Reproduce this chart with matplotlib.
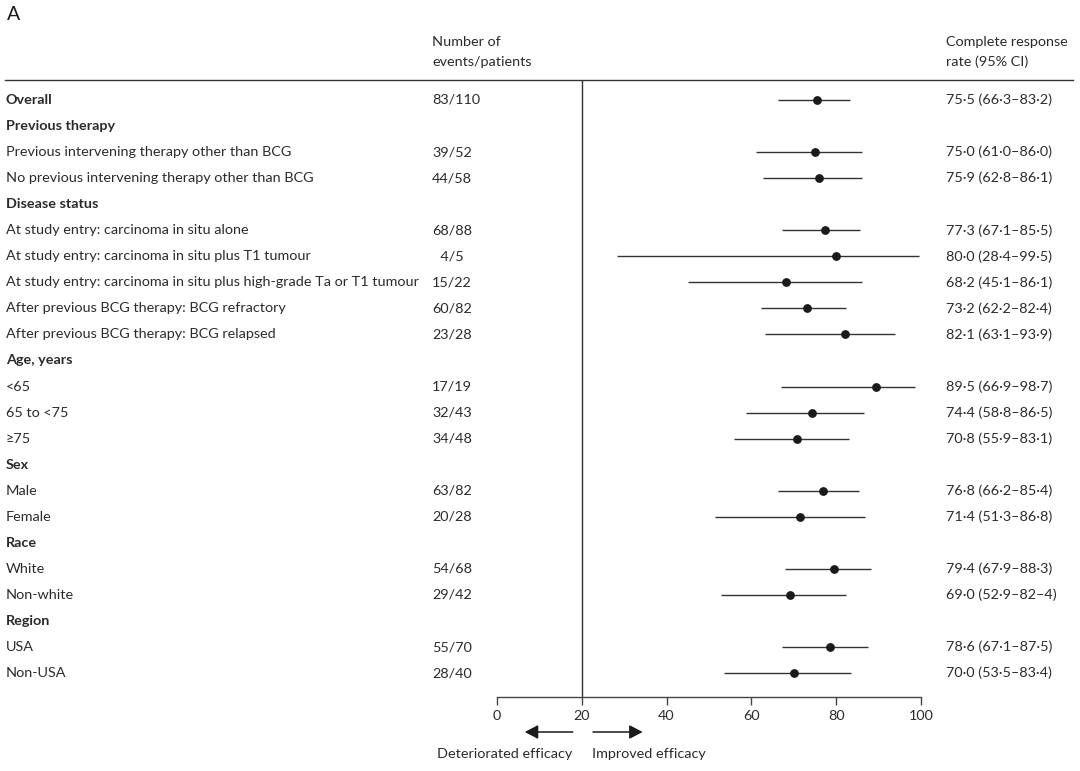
import matplotlib
matplotlib.use('Agg')
import matplotlib.pyplot as plt
from matplotlib import transforms
import numpy as np

# Subgroup rows (headers have no values)
labels = [
    'Overall', 'Previous therapy',
    'Previous intervening therapy other than BCG',
    'No previous intervening therapy other than BCG',
    'Disease status',
    'At study entry: carcinoma in situ alone',
    'At study entry: carcinoma in situ plus T1 tumour',
    'At study entry: carcinoma in situ plus high-grade Ta or T1 tumour',
    'After previous BCG therapy: BCG refractory',
    'After previous BCG therapy: BCG relapsed',
    'Age, years', '<65', '65 to <75', '≥75',
    'Sex', 'Male', 'Female',
    'Race', 'White', 'Non-white',
    'Region', 'USA', 'Non-USA',
]
bold = [True, True, False, False, True, False, False, False, False, False,
        True, False, False, False, True, False, False, True, False, False,
        True, False, False]
counts = ['83/110', '', '39/52', '44/58', '', '68/88', '\u20074/5', '15/22',
          '60/82', '23/28', '', '17/19', '32/43', '34/48', '', '63/82', '20/28',
          '', '54/68', '29/42', '', '55/70', '28/40']
nan = np.nan
estimate = [75.5, nan, 75.0, 75.9, nan, 77.3, 80.0, 68.2, 73.2, 82.1, nan,
            89.5, 74.4, 70.8, nan, 76.8, 71.4, nan, 79.4, 69.0, nan, 78.6, 70.0]
lower = [66.3, nan, 61.0, 62.8, nan, 67.1, 28.4, 45.1, 62.2, 63.1, nan,
         66.9, 58.8, 55.9, nan, 66.2, 51.3, nan, 67.9, 52.9, nan, 67.1, 53.5]
upper = [83.2, nan, 86.0, 86.1, nan, 85.5, 99.5, 86.1, 82.4, 93.9, nan,
         98.7, 86.5, 83.1, nan, 85.4, 86.8, nan, 88.3, 82.4, nan, 87.5, 83.4]
ci_text = ['75·5 (66·3–83·2)', '', '75·0 (61·0–86·0)', '75·9 (62·8–86·1)', '',
           '77·3 (67·1–85·5)', '80·0 (28·4–99·5)', '68·2 (45·1–86·1)',
           '73·2 (62·2–82·4)', '82·1 (63·1–93·9)', '',
           '89·5 (66·9–98·7)', '74·4 (58·8–86·5)', '70·8 (55·9–83·1)', '',
           '76·8 (66·2–85·4)', '71·4 (51·3–86·8)', '',
           '79·4 (67·9–88·3)', '69·0 (52·9–82–4)', '',
           '78·6 (67·1–87·5)', '70·0 (53·5–83·4)']
xticks = [0, 20, 40, 60, 80, 100]

plt.rcParams['font.family'] = ['Lato', 'DejaVu Sans']
txt_color = '#2b2b2b'
fs = 10.4

W, H = 1080, 771
fig = plt.figure(figsize=(W / 100, H / 100), dpi=100)

# Forest axes: x 0..100 spans px 497..921, top at header line, bottom at axis
left, right = 497 / W, 921 / W
top, bottom = 1 - 80 / H, 1 - 697 / H
ax = fig.add_axes([left, bottom, right - left, top - bottom])
ax.set_xlim(0, 100)
row_gap = 26.05
ax.set_ylim((697 - 100) / row_gap, -20 / row_gap)

y = np.arange(len(labels))
est = np.array(estimate)
has = ~np.isnan(est)
ax.hlines(y[has], np.array(lower)[has], np.array(upper)[has],
          color='#333333', lw=1.0)
ax.plot(est[has], y[has], 'o', color='#1a1a1a', ms=5.3, zorder=3)
ax.axvline(20, color='#333333', lw=1.0)

for s in ['top', 'right', 'left']:
    ax.spines[s].set_visible(False)
ax.spines['bottom'].set_color('#444444')
ax.spines['bottom'].set_linewidth(1.0)
ax.set_yticks([])
ax.set_xticks(xticks)
ax.tick_params(axis='x', direction='out', length=6, width=1.0,
               color='#444444', labelsize=fs, labelcolor=txt_color, pad=3)

# Text columns, figure x with data y
tr = transforms.blended_transform_factory(fig.transFigure, ax.transData)
for i, lab in enumerate(labels):
    ax.text(6 / W, i, lab, transform=tr, ha='left', va='center', fontsize=fs,
            color=txt_color, fontweight='bold' if bold[i] else 'normal',
            clip_on=False)
    if counts[i]:
        ax.text(432 / W, i, counts[i], transform=tr, ha='left', va='center',
                fontsize=fs, color=txt_color, clip_on=False)
    if ci_text[i]:
        ax.text(946 / W, i, ci_text[i], transform=tr, ha='left', va='center',
                fontsize=fs, color=txt_color, clip_on=False)

# Headers
fig.text(432 / W, 1 - 42 / H, 'Number of', ha='left', va='center',
         fontsize=fs, color=txt_color)
fig.text(432 / W, 1 - 62 / H, 'events/patients', ha='left', va='center',
         fontsize=fs, color=txt_color)
fig.text(946 / W, 1 - 42 / H, 'Complete response', ha='left', va='center',
         fontsize=fs, color=txt_color)
fig.text(946 / W, 1 - 62 / H, 'rate (95% CI)', ha='left', va='center',
         fontsize=fs, color=txt_color)
fig.text(7 / W, 1 - 15 / H, 'A', ha='left', va='center', fontsize=14,
         color='#1a1a1a')
fig.add_artist(plt.Line2D([5 / W, 1073 / W], [top, top], color='#333333',
                          lw=1.0))

# Direction arrows under the axis
tra = transforms.blended_transform_factory(ax.transData, fig.transFigure)
ya = 1 - 732 / H
arrow = dict(arrowstyle='-|>,head_length=0.8,head_width=0.42',
             color='#1a1a1a', lw=1.1)
ax.annotate('', xy=(5.9, ya), xytext=(18.5, ya), xycoords=tra, textcoords=tra,
            arrowprops=arrow, annotation_clip=False)
ax.annotate('', xy=(35.0, ya), xytext=(22.0, ya), xycoords=tra, textcoords=tra,
            arrowprops=arrow, annotation_clip=False)
yl = 1 - 754 / H
ax.text(17.8, yl, 'Deteriorated efficacy', transform=tra, ha='right',
        va='center', fontsize=fs, color=txt_color, clip_on=False)
ax.text(22.4, yl, 'Improved efficacy', transform=tra, ha='left',
        va='center', fontsize=fs, color=txt_color, clip_on=False)

fig.savefig('out.png', dpi=100)
